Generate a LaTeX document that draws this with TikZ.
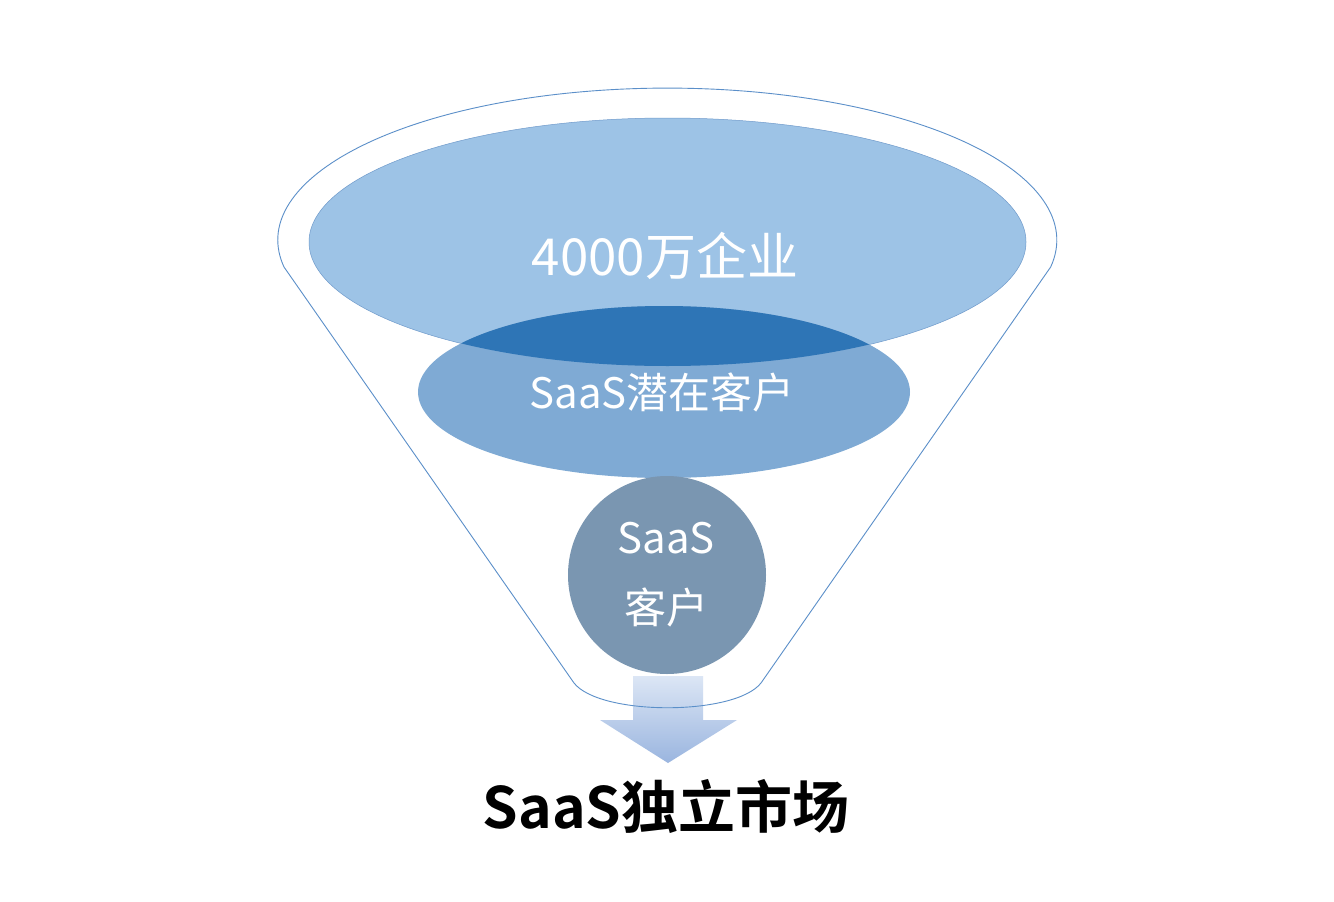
\documentclass[tikz,border=0pt]{standalone}
\usepackage{fontspec}
\setmainfont{Noto Sans CJK SC}[BoldFont={Noto Sans CJK SC Bold}]
\usetikzlibrary{shapes.geometric}
\definecolor{rimline}{HTML}{5B8FC9}
\definecolor{bigfill}{HTML}{9DC3E6}
\definecolor{bigedge}{HTML}{6F9ACB}
\definecolor{potfill}{HTML}{7FAAD4}
\definecolor{overlapfill}{HTML}{2E75B6}
\definecolor{custfill}{HTML}{7A96B1}
\definecolor{arrowtop}{HTML}{DCE6F5}
\definecolor{arrowbot}{HTML}{9AB5DF}
\tikzset{
  whitetext/.style={text=white, inner sep=0pt, anchor=center},
  funnelline/.style={draw=rimline, line width=0.9pt, line join=round},
}
\begin{document}
\begin{tikzpicture}[x=1pt,y=-1pt]
\fill[white] (0,0) rectangle (1334,902);
\useasboundingbox (0,0) rectangle (1334,902);
% arrow
\shade[top color=arrowtop, bottom color=arrowbot]
  (633,676) -- (703,676) -- (703,720) -- (737,720) -- (668,763) -- (600,720) -- (633,720) -- cycle;
% funnel outline
\coordinate (lc) at (284,267);
\coordinate (rc) at (1051,267);
\coordinate (lb) at (574,683);
\coordinate (rb) at (761,683);
\draw[funnelline] (lc) arc[start angle=169.8, end angle=370.2, x radius=389.5, y radius=152]
  -- (rb) .. controls (735,716) and (600,716) .. (lb) -- cycle;
% big ellipse
\node[ellipse, fill=bigfill, draw=bigedge, line width=0.5pt, minimum width=717pt, minimum height=248pt, inner sep=0pt] (all) at (667.5,242) {};
% potential ellipse
\node[ellipse, fill=potfill, minimum width=492pt, minimum height=172pt, inner sep=0pt] (pot) at (664,392) {};
\begin{scope}
  \clip (667.5,242) ellipse [x radius=358.5, y radius=124];
  \fill[overlapfill] (664,392) ellipse [x radius=246, y radius=86];
\end{scope}
% customer circle
\node[circle, fill=custfill, minimum size=198pt, inner sep=0pt] (cust) at (667,575) {};
% texts
\node[whitetext, font=\fontsize{51}{60}\selectfont] (t1) at (665,256) {4000万企业};
\node[whitetext, font=\fontsize{42}{50}\selectfont] (t2) at (662,392) {SaaS潜在客户};
\node[whitetext, font=\fontsize{42}{50}\selectfont] (t3) at (666,538) {SaaS};
\node[whitetext, font=\fontsize{42}{50}\selectfont] (t4) at (666,607) {客户};
\node[inner sep=0pt, font=\fontsize{57}{68}\selectfont\bfseries] (t5) at (666,806) {SaaS独立市场};
\end{tikzpicture}
\end{document}
